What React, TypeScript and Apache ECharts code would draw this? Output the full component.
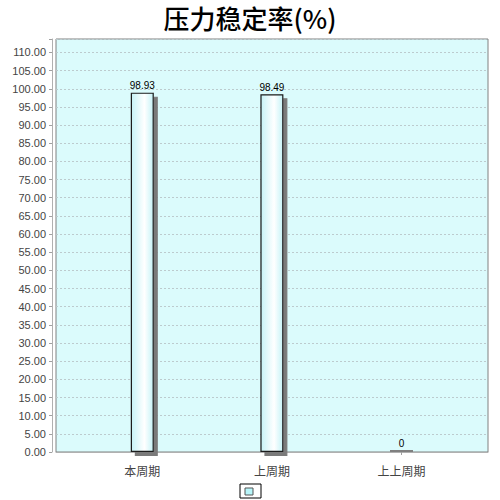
import React, { useEffect, useRef } from "react";
import * as echarts from "echarts";

const titleText = "压力稳定率(%)";
const categories = ["本周期", "上周期", "上上周期"];
const values = [98.93, 98.49, 0];
const yMin = 0;
const yMax = 113.7;
const yInterval = 5;

export default function App() {
  const ref = useRef<HTMLDivElement>(null);
  useEffect(() => {
    if (!ref.current) return;
    const chart = echarts.init(ref.current, null, { renderer: "svg" });
    const barFill = new echarts.graphic.LinearGradient(0, 0, 1, 0, [
      { offset: 0, color: "#c6f3f7" },
      { offset: 0.6, color: "#ffffff" },
      { offset: 1, color: "#c6f3f7" },
    ]);
    const option: any = {
      animation: false,
      backgroundColor: "#ffffff",
      title: {
        text: titleText,
        left: "center",
        top: 3,
        padding: [0, 5, 0, 5],
        textStyle: {
          fontFamily: "Noto Sans CJK SC",
          fontSize: 26,
          lineHeight: 28,
          fontWeight: 500,
          color: "#000000",
        },
      },
      grid: [
        {
          left: 56,
          right: 12,
          top: 39,
          bottom: 48,
          show: true,
          backgroundColor: "#dbfbfc",
          borderColor: "#808080",
          borderWidth: 1,
        },
        {
          left: 77.5,
          right: 33.7,
          top: 39,
          bottom: 48,
        },
      ],
      xAxis: [
        {
          type: "category",
          gridIndex: 0,
          data: ["a"],
          offset: 5,
          axisLine: { show: true, lineStyle: { color: "#b0b0b0", width: 1 } },
          axisTick: { show: false },
          axisLabel: { show: false },
          splitLine: { show: false },
        },
        {
          type: "category",
          gridIndex: 1,
          data: categories,
          offset: 5,
          axisLine: { show: false },
          axisTick: {
            show: true,
            alignWithLabel: true,
            length: 3,
            lineStyle: { color: "#a0a0a0" },
          },
          axisLabel: {
            color: "#444444",
            fontFamily: "Noto Sans CJK SC",
            fontSize: 12,
            margin: 7,
          },
          splitLine: { show: false },
        },
      ],
      yAxis: [
        {
          type: "value",
          gridIndex: 0,
          min: yMin,
          max: yMax,
          interval: yInterval,
          offset: 4,
          axisLine: { show: true, lineStyle: { color: "#b0b0b0", width: 1 } },
          axisTick: { show: true, length: 3, lineStyle: { color: "#a0a0a0" } },
          axisLabel: {
            color: "#444444",
            fontFamily: "Liberation Sans",
            fontSize: 11,
            margin: 6,
            formatter: (v: number) =>
              Math.abs(v / yInterval - Math.round(v / yInterval)) < 1e-6
                ? v.toFixed(2)
                : "",
          },
          splitLine: {
            show: true,
            lineStyle: { color: "#bccbce", type: [2, 2], width: 1 },
          },
        },
        {
          type: "value",
          gridIndex: 1,
          min: yMin,
          max: yMax,
          interval: yInterval,
          show: false,
          splitLine: { show: false },
        },
      ],
      series: [
        {
          type: "bar",
          xAxisIndex: 1,
          yAxisIndex: 1,
          barWidth: 23,
          barMinHeight: 2,
          data: values.map((v) =>
            v === 0
              ? {
                  value: v,
                  itemStyle: {
                    color: "#808080",
                    borderWidth: 0,
                    shadowColor: "rgba(0,0,0,0)",
                    shadowOffsetX: 0,
                    shadowOffsetY: 0,
                  },
                }
              : v
          ),
          itemStyle: {
            color: barFill,
            borderColor: "#1a1a1a",
            borderWidth: 1.2,
            shadowColor: "#7a7a7a",
            shadowBlur: 0,
            shadowOffsetX: 4,
            shadowOffsetY: 4,
          },
          label: {
            show: true,
            position: "top",
            distance: 2,
            color: "#000000",
            fontFamily: "Liberation Sans",
            fontSize: 10,
            formatter: (p: any) => String(p.value),
          },
        },
      ],
      graphic: [
        {
          type: "rect",
          shape: { x: 240, y: 484, width: 21, height: 14 },
          style: { fill: "#ffffff", stroke: "#000000", lineWidth: 1 },
        },
        {
          type: "rect",
          shape: { x: 245, y: 488, width: 8, height: 7 },
          style: { fill: "#b8f6fa", stroke: "#555555", lineWidth: 1 },
        },
      ],
    };
    chart.setOption(option);
    return () => chart.dispose();
  }, []);
  return (
    <div
      ref={ref}
      style={{ position: "fixed", left: 0, top: 0, width: 500, height: 500 }}
    />
  );
}
